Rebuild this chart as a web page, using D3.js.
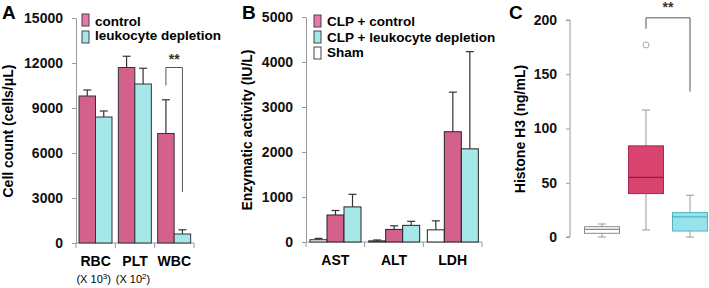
<!DOCTYPE html>
<html><head><meta charset="utf-8">
<script src="https://cdn.jsdelivr.net/npm/d3@7"></script>
<style>
body{margin:0;background:#fff;}
svg{display:block;font-family:"Liberation Sans",Arial,sans-serif;}
</style></head><body>
<svg id="c" width="709" height="288"></svg>
<script>
// ---- Panel A data ----
const catsA = ["RBC","PLT","WBC"];
const seriesA = ["control","leukocyte depletion"];
const valsA_control = [9800, 11700, 7300];
const errA_control = [10200, 12450, 9550];
const valsA_leuko = [8400, 10600, 600];
const errA_leuko = [8800, 11650, 880];
const ticksA = [0,3000,6000,9000,12000,15000];

// ---- Panel B data ----
const catsB = ["AST","ALT","LDH"];
const seriesB = ["Sham","CLP + control","CLP + leukocyte depletion"];
const legendB = ["CLP + control","CLP + leukocyte depletion","Sham"];
const valsB_sham = [50, 25, 270];
const errB_sham = [80, 45, 470];
const valsB_control = [600, 280, 2450];
const errB_control = [700, 360, 3330];
const valsB_leuko = [780, 370, 2070];
const errB_leuko = [1060, 460, 4230];
const ticksB = [0,1000,2000,3000,4000,5000];

// ---- Panel C data (box plots) ----
const groupsC = ["Sham","CLP + control","CLP + leukocyte depletion"];
const whiskerLowC = [0, 6.5, 0];
const q1C = [3.4, 40, 5.5];
const medianC = [7, 55, 18.5];
const q3C = [9.5, 84, 22.5];
const whiskerHighC = [12, 117, 38.5];
const outliersC = [[], [177], []];
const ticksC = [0,50,100,150,200];

const PINK = "#d4608c", CYAN = "#a6e7ea";
const svg = d3.select("#c");
const FONT = '"Liberation Sans",Arial,sans-serif';

function styleAxis(g){
  g.selectAll(".domain").attr("stroke","#9a9a9a");
  g.selectAll(".tick line").attr("stroke","#9a9a9a");
  g.selectAll(".tick text").attr("font-size",14).attr("font-weight","bold").attr("fill","#111").attr("font-family",FONT);
}
function panelLabel(t,x,y){
  svg.append("text").attr("x",x).attr("y",y).text(t).attr("font-size",19).attr("font-weight","bold");
}
function yLabel(t,x,y){
  svg.append("text").attr("transform",`translate(${x},${y}) rotate(-90)`).attr("text-anchor","middle")
    .attr("font-size",14).attr("font-weight","bold").text(t);
}
function errBar(g,cx,top,err,cap){
  g.append("line").attr("x1",cx).attr("x2",cx).attr("y1",top).attr("y2",err).attr("stroke","#333").attr("stroke-width",1.2);
  g.append("line").attr("x1",cx-cap).attr("x2",cx+cap).attr("y1",err).attr("y2",err).attr("stroke","#333").attr("stroke-width",1.2);
}

// ================= Panel A =================
{
  const y = d3.scaleLinear().domain([0,15000]).range([243,18]);
  const x = d3.scaleBand().domain(catsA).range([76,194]);
  const xs = d3.scaleBand().domain(seriesA).range([3,36]);
  const g = svg.append("g");
  g.append("g").attr("transform","translate(76,0)")
    .call(d3.axisLeft(y).tickValues(ticksA).tickFormat(d3.format("d")).tickSize(4).tickSizeOuter(0).tickPadding(9))
    .call(styleAxis);
  g.append("line").attr("x1",x.range()[0]).attr("x2",x.range()[1]).attr("y1",y(0)).attr("y2",y(0)).attr("stroke","#9a9a9a");
  const edges = catsA.map(c=>x(c)).concat([x.range()[1]]);
  edges.forEach(e=>g.append("line").attr("x1",e).attr("x2",e).attr("y1",y(0)).attr("y2",y(0)+5).attr("stroke","#9a9a9a"));
  const series = [[valsA_control,errA_control,PINK],[valsA_leuko,errA_leuko,CYAN]];
  series.forEach((s,si)=>{
    catsA.forEach((c,i)=>{
      const bx = x(c)+xs(seriesA[si]), bw = xs.bandwidth();
      errBar(g,bx+bw/2,y(s[0][i]),y(s[1][i]),4);
      g.append("rect").attr("x",bx).attr("y",y(s[0][i])).attr("width",bw).attr("height",y(0)-y(s[0][i]))
        .attr("fill",s[2]).attr("stroke","#333").attr("stroke-width",1);
    });
  });
  catsA.forEach(c=>g.append("text").attr("x",x(c)+x.bandwidth()/2).attr("y",266).attr("text-anchor","middle")
    .attr("font-size",14).attr("font-weight","bold").text(c));
  const exps = ["3","2"];
  [0,1].forEach(i=>{
    const t = g.append("text").attr("x",x(catsA[i])+x.bandwidth()/2-2).attr("y",283).attr("text-anchor","middle").attr("font-size",11).attr("fill","#000");
    t.append("tspan").text("(X 10");
    t.append("tspan").text(exps[i]).attr("font-size",8).attr("dy",-4);
    t.append("tspan").text(")").attr("dy",4);
  });
  const wx = x("WBC");
  const lx = wx+xs(seriesA[0])+xs.bandwidth()/2, rx = wx+xs(seriesA[1])+xs.bandwidth()/2;
  g.append("path").attr("d",`M${lx},${y(10500)}V${y(11700)}H${rx}V${y(3400)}`).attr("fill","none").attr("stroke","#555");
  g.append("text").attr("x",(lx+rx)/2).attr("y",64).attr("text-anchor","middle").attr("font-size",14).attr("font-weight","bold").attr("fill","#333").text("**");
  [[seriesA[0],"#e876ab",14,26],[seriesA[1],CYAN,31,40]].forEach(([t,c,ry,ty])=>{
    g.append("rect").attr("x",82).attr("y",ry).attr("width",7).attr("height",12).attr("fill",c).attr("stroke","#444");
    g.append("text").attr("x",95).attr("y",ty).attr("font-size",13.5).attr("font-weight","bold").text(t);
  });
  panelLabel("A",2,19);
  yLabel("Cell count (cells/μL)",13,131);
}

// ================= Panel B =================
{
  const y = d3.scaleLinear().domain([0,5000]).range([242,17]);
  const x = d3.scaleBand().domain(catsB).range([306,482]);
  const xs = d3.scaleBand().domain(seriesB).range([4,55]);
  const g = svg.append("g");
  g.append("g").attr("transform","translate(306,0)")
    .call(d3.axisLeft(y).tickValues(ticksB).tickFormat(d3.format("d")).tickSize(4).tickSizeOuter(0).tickPadding(9))
    .call(styleAxis);
  g.append("line").attr("x1",x.range()[0]).attr("x2",x.range()[1]).attr("y1",y(0)).attr("y2",y(0)).attr("stroke","#9a9a9a");
  const edges = catsB.map(c=>x(c)).concat([x.range()[1]]);
  edges.forEach(e=>g.append("line").attr("x1",e).attr("x2",e).attr("y1",y(0)).attr("y2",y(0)+5).attr("stroke","#9a9a9a"));
  const series = [[valsB_sham,errB_sham,"#fff"],[valsB_control,errB_control,PINK],[valsB_leuko,errB_leuko,CYAN]];
  series.forEach((s,si)=>{
    catsB.forEach((c,i)=>{
      const bx = x(c)+xs(seriesB[si]), bw = xs.bandwidth();
      errBar(g,bx+bw/2,y(s[0][i]),y(s[1][i]),4);
      g.append("rect").attr("x",bx).attr("y",y(s[0][i])).attr("width",bw).attr("height",y(0)-y(s[0][i]))
        .attr("fill",s[2]).attr("stroke","#222").attr("stroke-width",1);
    });
  });
  catsB.forEach(c=>g.append("text").attr("x",x(c)+x.bandwidth()/2).attr("y",265).attr("text-anchor","middle")
    .attr("font-size",14).attr("font-weight","bold").text(c));
  const legCol = {"CLP + control":"#e876ab","CLP + leukocyte depletion":CYAN,"Sham":"#fff"};
  legendB.forEach((t,i)=>{
    g.append("rect").attr("x",314).attr("y",15+i*16).attr("width",7).attr("height",12).attr("fill",legCol[t]).attr("stroke","#444");
    g.append("text").attr("x",327).attr("y",26+i*15.5).attr("font-size",13.5).attr("font-weight","bold").text(t);
  });
  panelLabel("B",242,19);
  yLabel("Enzymatic activity (IU/L)",252,130);
}

// ================= Panel C =================
{
  const y = d3.scaleLinear().domain([0,200]).range([237,20]);
  const x = d3.scaleBand().domain(groupsC).range([580,712]);
  const g = svg.append("g");
  const ax = g.append("g").attr("transform","translate(570,0)")
    .call(d3.axisLeft(y).tickValues(ticksC).tickSize(4).tickSizeOuter(0).tickPadding(9))
    .call(styleAxis);
  ax.select(".domain").attr("d","M-4,"+y(200)+"H0V"+y(0)+"H-4");
  const fills = ["#ffffff","#d9436f","#98e3eb"];
  const strokes = ["#8a8a8a","#a8284f","#4fb3c2"];
  const meds = ["#8a8a8a","#8a1d42","#4fb3c2"];
  const bw = 35;
  groupsC.forEach((gName,i)=>{
    const cx = x(gName)+x.bandwidth()/2;
    g.append("line").attr("x1",cx).attr("x2",cx).attr("y1",y(whiskerLowC[i])).attr("y2",y(whiskerHighC[i])).attr("stroke","#999");
    [whiskerLowC[i],whiskerHighC[i]].forEach(v=>g.append("line").attr("x1",cx-4).attr("x2",cx+4).attr("y1",y(v)).attr("y2",y(v)).attr("stroke","#999"));
    g.append("rect").attr("x",cx-bw/2).attr("y",y(q3C[i])).attr("width",bw).attr("height",y(q1C[i])-y(q3C[i]))
      .attr("fill",fills[i]).attr("stroke",strokes[i]).attr("stroke-width",1);
    g.append("line").attr("x1",cx-bw/2).attr("x2",cx+bw/2).attr("y1",y(medianC[i])).attr("y2",y(medianC[i])).attr("stroke",meds[i]).attr("stroke-width",1.2);
    outliersC[i].forEach(v=>g.append("circle").attr("cx",cx).attr("cy",y(v)).attr("r",3).attr("fill","none").attr("stroke","#aaa"));
  });
  const lx = x(groupsC[1])+x.bandwidth()/2, rx = x(groupsC[2])+x.bandwidth()/2;
  g.append("path").attr("d",`M${lx},${y(192)}V${y(202)}H${rx}V${y(134)}`).attr("fill","none").attr("stroke","#555");
  g.append("text").attr("x",(lx+rx)/2).attr("y",12).attr("text-anchor","middle").attr("font-size",14).attr("font-weight","bold").attr("fill","#333").text("**");
  panelLabel("C",509,19);
  yLabel("Histone H3 (ng/mL)",525,129);
}
</script>
</body></html>
